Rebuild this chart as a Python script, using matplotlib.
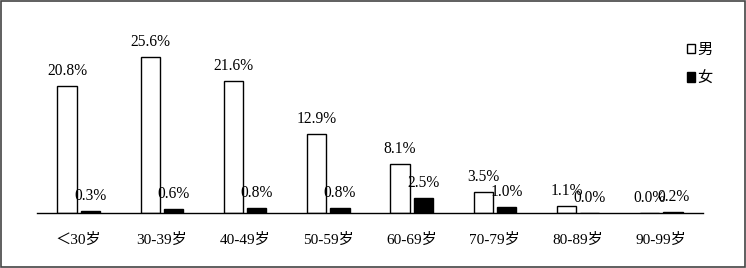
import numpy as np
import matplotlib.pyplot as plt
from matplotlib.patches import Rectangle

plt.rcParams['font.family'] = ['Liberation Serif', 'Noto Sans CJK SC']

categories = ['＜30岁', '30-39岁', '40-49岁', '50-59岁', '60-69岁', '70-79岁', '80-89岁', '90-99岁']
male = [20.8, 25.6, 21.6, 12.9, 8.1, 3.5, 1.1, 0.0]
female = [0.3, 0.6, 0.8, 0.8, 2.5, 1.0, 0.0, 0.2]

fig = plt.figure(figsize=(7.46, 2.68), dpi=100)
ax = fig.add_axes([0.0496, 0.205, 0.8928, 0.683])

x = np.arange(len(categories))
w = 0.23
b1 = ax.bar(x - 0.14, male, w, color='white', edgecolor='black', linewidth=1, label='男')
b2 = ax.bar(x + 0.14, female, w, color='black', edgecolor='black', linewidth=1, label='女')

for bars, vals in [(b1, male), (b2, female)]:
    for r, v in zip(bars, vals):
        ax.annotate(f'{v:.1f}%', (r.get_x() + r.get_width() / 2, r.get_height()),
                    xytext=(0, 5), textcoords='offset points',
                    ha='center', va='bottom', fontsize=11.2)

ax.set_xlim(-0.5, len(categories) - 0.5)
ax.set_ylim(0, 30)
ax.set_xticks(x)
ax.set_xticklabels(categories, fontsize=11)
ax.tick_params(axis='x', length=0, pad=14)
ax.set_yticks([])
for s in ['left', 'right', 'top']:
    ax.spines[s].set_visible(False)
ax.spines['bottom'].set_linewidth(1)

ax.legend(loc='upper right', bbox_to_anchor=(1.035, 1.0), frameon=False,
          fontsize=11, handlelength=0.55, handleheight=0.55, handletextpad=0.15,
          labelspacing=0.95)

fig.patches.append(Rectangle((0.002, 0.004), 0.996, 0.992, transform=fig.transFigure,
                             fill=False, edgecolor='#444444', linewidth=1.2))

fig.savefig('out.png', dpi=100)
